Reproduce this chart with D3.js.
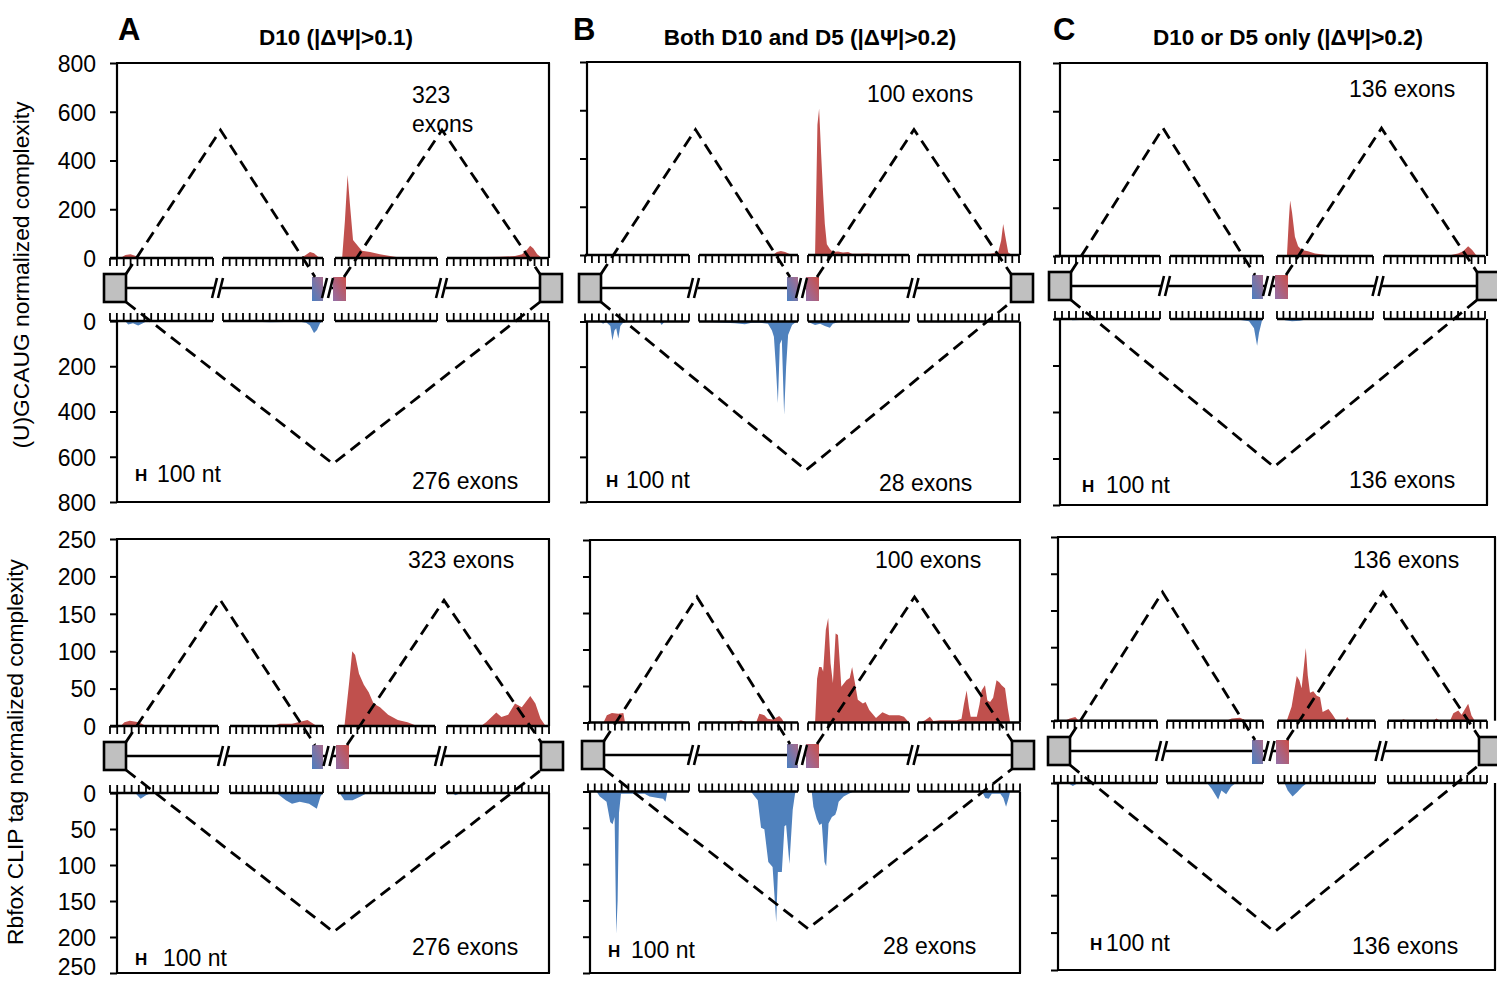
<!DOCTYPE html>
<html><head><meta charset="utf-8">
<script src="https://cdn.jsdelivr.net/npm/d3@7"></script>
<style>
body{margin:0;background:#fff}
svg{display:block}
text{font-family:"Liberation Sans",Arial,Helvetica,sans-serif;fill:#000}
</style>
</head><body>
<svg id="chart" width="1497" height="981"></svg>
<script>
// ---------------- DATA ----------------
const columnLetters = ["A", "B", "C"];
const columnTitles = ["D10 (|ΔΨ|>0.1)", "Both D10 and D5 (|ΔΨ|>0.2)", "D10 or D5 only (|ΔΨ|>0.2)"];
const rowTitles = ["(U)GCAUG normalized complexity", "Rbfox CLIP tag normalized complexity"];
const motifTicks = [0, 200, 400, 600, 800];
const clipTicks = [0, 50, 100, 150, 200, 250];
const upExonLabels = ["323 exons", "100 exons", "136 exons"];
const downExonLabels = ["276 exons", "28 exons", "136 exons"];
const scaleBarLabel = "100 nt";
const segmentLength = 300;      // nt per map segment
const segmentTickStep = 20;     // nt between ruler ticks
// dashed splice diagram apex values (up, down) in axis units
const motifApex = [[525, 631], [520, 659], [530, 636]];
const clipApex = [[168, 193], [172, 189], [175, 199]];

// each profile: 4 segments, each a list of [nt, value]
const motifUpA = [
  [[0,0],[30,0],[45,12],[60,15],[75,8],[95,0],[300,0]],
  [[0,0],[231,0],[246,10],[261,25],[273,20],[285,5],[300,0]],
  [[0,0],[21,0],[29,150],[37,341],[44,220],[53,74],[65,53],[79,30],[103,25],[132,15],[162,8],[185,3],[221,0],[300,0]],
  [[0,0],[69,3],[158,5],[202,8],[223,15],[238,35],[247,50],[256,40],[268,15],[282,0],[300,0]]
];
const motifDownA = [
  [[0,0],[44,0],[53,15],[67,10],[82,20],[93,12],[108,0],[300,0]],
  [[0,0],[90,3],[141,5],[186,4],[231,3],[249,8],[261,20],[273,53],[282,40],[291,10],[300,0]],
  [[0,0],[20,0],[29,3],[60,2],[80,0],[300,0]],
  [[0,0],[60,0],[69,2],[90,0],[300,0]]
];
const motifUpB = [
  [[0,0],[100,0],[110,3],[180,3],[195,0],[300,0]],
  [[0,0],[224,0],[236,12],[248,17],[261,12],[276,3],[291,0],[300,0]],
  [[0,0],[21,0],[25,300],[28,540],[33,606],[39,420],[45,250],[50,128],[56,45],[65,25],[74,12],[89,15],[104,10],[119,12],[131,5],[154,5],[178,6],[199,2],[214,0],[300,0]],
  [[0,0],[65,2],[154,4],[214,5],[238,10],[247,60],[253,128],[259,80],[268,10],[280,0],[300,0]]
];
const motifDownB = [
  [[0,0],[44,0],[52,10],[61,2],[73,20],[79,84],[85,40],[90,30],[96,75],[102,20],[110,5],[131,0],[215,0],[221,15],[230,0],[300,0]],
  [[0,0],[79,5],[109,8],[139,12],[160,5],[185,5],[209,10],[221,40],[227,68],[233,200],[239,361],[245,100],[251,80],[258,413],[264,200],[270,60],[282,15],[291,5],[300,0]],
  [[0,0],[6,5],[21,15],[36,10],[50,20],[65,28],[74,10],[89,3],[112,0],[300,0]],
  [[0,0],[40,0],[60,3],[80,0],[300,0]]
];
const motifUpC = [
  [[0,0],[120,0],[129,4],[151,5],[165,0],[300,0]],
  [[0,0],[165,0],[177,4],[226,5],[258,3],[275,0],[300,0]],
  [[0,0],[31,0],[37,150],[41,230],[47,180],[56,80],[66,40],[78,25],[97,20],[119,10],[150,5],[181,0],[300,0]],
  [[0,0],[180,0],[196,3],[220,10],[235,20],[250,40],[262,25],[273,5],[285,0],[300,0]]
];
const motifDownC = [
  [[0,0],[40,0],[50,5],[70,4],[80,0],[300,0]],
  [[0,0],[215,0],[223,3],[255,10],[271,40],[281,115],[287,60],[297,5],[300,0]],
  [[0,0],[18,0],[25,5],[47,10],[72,8],[87,3],[100,0],[300,0]],
  [[0,0],[300,0]]
];
const clipUpA = [
  [[0,0],[30,0],[40,5],[55,7],[80,5],[100,0],[300,0]],
  [[0,0],[140,0],[160,3],[200,3],[230,6],[250,8],[265,4],[280,0],[300,0]],
  [[0,0],[20,0],[35,60],[44,100],[53,95],[65,70],[80,55],[95,45],[110,30],[130,25],[155,15],[185,8],[215,5],[245,0],[300,0]],
  [[0,0],[100,0],[115,5],[145,18],[160,12],[180,15],[200,30],[220,25],[245,40],[260,30],[275,10],[290,0],[300,0]]
];
const clipDownA = [
  [[0,0],[70,0],[85,8],[100,3],[115,0],[300,0]],
  [[0,0],[150,0],[180,10],[200,15],[225,12],[255,15],[280,22],[292,5],[300,0]],
  [[0,0],[5,0],[20,10],[45,10],[70,5],[90,0],[300,0]],
  [[0,0],[15,0],[25,3],[40,0],[300,0]]
];
const clipUpB = [
  [[0,0],[46,0],[56,10],[71,13],[90,12],[105,13],[110,0],[300,0]],
  [[0,0],[106,0],[127,3],[147,0],[173,0],[183,12],[198,10],[208,5],[223,4],[243,9],[251,5],[258,0],[300,0]],
  [[0,0],[21,0],[27,60],[33,76],[40,76],[45,70],[53,127],[60,143],[67,81],[74,54],[82,122],[89,120],[99,49],[114,58],[124,61],[131,76],[138,58],[148,31],[163,26],[171,28],[182,17],[202,6],[221,14],[241,10],[271,10],[285,8],[300,0]],
  [[0,0],[6,0],[21,3],[35,8],[45,2],[65,3],[84,3],[114,3],[128,5],[135,25],[143,44],[150,20],[155,8],[173,8],[181,25],[187,44],[197,51],[204,30],[212,28],[221,34],[231,58],[239,55],[246,51],[256,47],[264,20],[271,0],[300,0]]
];
const clipDownB = [
  [[0,0],[25,0],[35,7],[55,14],[66,42],[73,45],[79,35],[84,196],[88,150],[92,30],[98,3],[168,3],[183,7],[208,9],[223,10],[230,14],[236,0],[300,0]],
  [[0,0],[157,0],[178,12],[188,50],[198,52],[210,97],[223,104],[234,180],[239,111],[251,111],[259,48],[264,46],[274,100],[284,25],[291,3],[294,0],[300,0]],
  [[0,0],[11,0],[16,21],[26,38],[34,46],[41,44],[49,97],[54,103],[61,44],[71,35],[81,32],[86,25],[91,14],[106,7],[121,3],[136,0],[300,0]],
  [[0,0],[188,0],[198,9],[208,10],[217,3],[242,3],[251,9],[259,21],[266,10],[271,0],[300,0]]
];
const clipUpC = [
  [[0,0],[31,0],[46,3],[62,5],[72,0],[300,0]],
  [[0,0],[186,0],[202,3],[228,4],[249,0],[300,0]],
  [[0,0],[27,0],[42,19],[58,61],[66,55],[73,44],[86,99],[92,62],[99,38],[109,40],[120,34],[130,32],[138,12],[156,16],[169,8],[181,0],[207,0],[214,5],[223,0],[300,0]],
  [[0,0],[40,0],[46,2],[60,0],[137,0],[147,3],[158,0],[188,0],[198,10],[213,14],[223,8],[243,23],[253,7],[263,0],[300,0]]
];
const clipDownC = [
  [[0,0],[40,0],[55,4],[70,0],[300,0]],
  [[0,0],[125,0],[140,8],[150,15],[160,22],[170,10],[185,15],[200,5],[215,0],[300,0]],
  [[0,0],[20,0],[30,10],[45,18],[60,12],[75,5],[90,0],[300,0]],
  [[0,0],[300,0]]
];

// ---------------- LAYOUT ----------------
const FS = 23;
const panels = [
  {row:0,col:0,l:117,r:549,t:63,upZero:258,downZero:321,b:502,geneY:288,
   segs:[[110,213],[223,323],[335,437],[447,548]],up:motifUpA,down:motifDownA,max:800,ticks:motifTicks,apex:motifApex[0],
   upLbl:[412,103],downLbl:[412,489],bar:[135,482],barGap:22},
  {row:0,col:1,l:587,r:1020,t:62,upZero:255,downZero:321.5,b:502,geneY:288,
   segs:[[585,689],[699,798],[808,909],[918,1019]],up:motifUpB,down:motifDownB,max:800,ticks:motifTicks,apex:motifApex[1],
   upLbl:[867,102],downLbl:[879,491],bar:[606,488],barGap:20},
  {row:0,col:2,l:1060,r:1487,t:63,upZero:256,downZero:319,b:505,geneY:286,
   segs:[[1055,1160],[1170,1263],[1277,1373],[1384,1485]],up:motifUpC,down:motifDownC,max:800,ticks:motifTicks,apex:motifApex[2],
   upLbl:[1349,97],downLbl:[1349,488],bar:[1082,493],barGap:24},
  {row:1,col:0,l:117,r:549,t:539,upZero:726,downZero:793,b:973,geneY:756,
   segs:[[110,218],[230,323],[338,435],[447,549]],up:clipUpA,down:clipDownA,max:250,ticks:clipTicks,apex:clipApex[0],
   upLbl:[408,568],downLbl:[412,955],bar:[135,966],barGap:28},
  {row:1,col:1,l:590,r:1020,t:540,upZero:722.5,downZero:791.5,b:973,geneY:755,
   segs:[[588,689],[699,798],[808,909],[918,1020]],up:clipUpB,down:clipDownB,max:250,ticks:clipTicks,apex:clipApex[1],
   upLbl:[875,568],downLbl:[883,954],bar:[608,958],barGap:23},
  {row:1,col:2,l:1058,r:1495,t:537,upZero:720.7,downZero:783,b:970,geneY:751,
   segs:[[1054,1157],[1167,1263],[1278,1375],[1388,1487]],up:clipUpC,down:clipDownC,max:250,ticks:clipTicks,apex:clipApex[2],
   upLbl:[1353,568],downLbl:[1352,954],bar:[1090,951],barGap:16}
];

const RED = "#c0504d", BLUE = "#4f81bd";
const svg = d3.select("#chart");

const defs = svg.append("defs");
const g1 = defs.append("linearGradient").attr("id","gradBlue").attr("x1","0").attr("y1","1").attr("x2","1").attr("y2","0");
g1.append("stop").attr("offset","0").attr("stop-color","#4a7fc1");
g1.append("stop").attr("offset","1").attr("stop-color","#a86b8c");
const g2 = defs.append("linearGradient").attr("id","gradRed").attr("x1","0").attr("y1","1").attr("x2","1").attr("y2","0");
g2.append("stop").attr("offset","0").attr("stop-color","#9370a8");
g2.append("stop").attr("offset","1").attr("stop-color","#cc4f48");

// column letters & titles
const letterX = [118, 573, 1053];
const titleX = [336, 810, 1288];
columnLetters.forEach((L,i)=>{
  svg.append("text").attr("x",letterX[i]).attr("y",40).attr("font-size",31).attr("font-weight","bold").text(L);
  svg.append("text").attr("x",titleX[i]).attr("y",45).attr("font-size",22.5).attr("font-weight","bold")
    .attr("text-anchor","middle").text(columnTitles[i]);
});
// row titles
[[29,275],[23,752]].forEach((p,i)=>{
  svg.append("text").attr("transform",`translate(${p[0]},${p[1]}) rotate(-90)`)
    .attr("text-anchor","middle").attr("font-size",22.8).text(rowTitles[i]);
});

panels.forEach(P=>{
  const g = svg.append("g");
  const yUp = d3.scaleLinear().domain([0,P.max]).range([P.upZero,P.t]);
  const yDown = d3.scaleLinear().domain([0,P.max]).range([P.downZero,P.b]);
  const xs = P.segs.map(s=>d3.scaleLinear().domain([0,segmentLength]).range(s));

  // areas
  P.up.forEach((seg,i)=>{
    g.append("path").datum(seg).attr("fill",RED)
      .attr("d",d3.area().x(d=>xs[i](d[0])).y0(P.upZero).y1(d=>yUp(d[1])));
  });
  P.down.forEach((seg,i)=>{
    g.append("path").datum(seg).attr("fill",BLUE)
      .attr("d",d3.area().x(d=>xs[i](d[0])).y0(P.downZero).y1(d=>yDown(d[1])));
  });

  // axes
  const fmt = P.col===0 ? d3.format("d") : ()=>"";
  [yUp,yDown].forEach((sc,k)=>{
    const ax = d3.axisLeft(sc).tickValues(P.ticks).tickSize(7).tickPadding(14).tickFormat(fmt);
    const a = g.append("g").attr("transform",`translate(${P.l},0)`).call(ax);
    a.select(".domain").remove();
    a.selectAll("line").attr("stroke","#000").attr("stroke-width",2);
    a.selectAll("text").attr("font-size",FS).attr("font-family","Liberation Sans, Arial, sans-serif").attr("dy","0.36em");
    // keep the lowest label of the bottom row inside the picture
    if (P.row===1 && k===1) a.selectAll("text").filter(d=>d===P.max).attr("dy","0.08em");
  });
  // frame lines
  const fl = (x1,y1,x2,y2)=>g.append("line").attr("x1",x1).attr("y1",y1).attr("x2",x2).attr("y2",y2)
      .attr("stroke","#000").attr("stroke-width",2.2);
  fl(P.l,P.t,P.l,P.upZero); fl(P.l,P.downZero,P.l,P.b);
  fl(P.r,P.t,P.r,P.upZero); fl(P.r,P.downZero,P.r,P.b);
  fl(P.l-1,P.t,P.r+1,P.t); fl(P.l-1,P.b,P.r+1,P.b);

  // rulers
  xs.forEach(x=>{
    const ticks = d3.range(0,segmentLength+1,segmentTickStep);
    [[P.upZero,1],[P.downZero,-1]].forEach(([y0,dir])=>{
      g.append("line").attr("x1",x(0)).attr("x2",x(segmentLength)).attr("y1",y0).attr("y2",y0)
        .attr("stroke","#000").attr("stroke-width",2.6);
      g.selectAll(null).data(ticks).enter().append("line")
        .attr("x1",d=>x(d)).attr("x2",d=>x(d)).attr("y1",y0).attr("y2",y0+dir*8)
        .attr("stroke","#000").attr("stroke-width",1.8);
    });
  });

  // gene diagram
  const gy = P.geneY;
  const grayL = [xs[0](0)-6, xs[0](0)+16];
  const grayR = [xs[3](segmentLength)-8, xs[3](segmentLength)+14];
  const blue = [xs[1](segmentLength)-11, xs[1](segmentLength)];
  const red = [xs[2](0)-2, xs[2](0)+11];
  g.append("line").attr("x1",grayL[1]).attr("x2",grayR[0]).attr("y1",gy).attr("y2",gy)
    .attr("stroke","#000").attr("stroke-width",2.6);
  const brk = (cx)=>{
    g.append("polygon").attr("points",`${cx-6},${gy+10} ${cx-1},${gy-10} ${cx+6},${gy-10} ${cx+1},${gy+10}`).attr("fill","#fff");
    [-3,3].forEach(o=>g.append("line").attr("x1",cx+o-3).attr("y1",gy+10).attr("x2",cx+o+2).attr("y2",gy-10)
      .attr("stroke","#000").attr("stroke-width",2.6));
  };
  g.append("rect").attr("x",blue[0]).attr("y",gy-11).attr("width",blue[1]-blue[0]).attr("height",24).attr("fill","url(#gradBlue)");
  g.append("rect").attr("x",red[0]).attr("y",gy-11).attr("width",red[1]-red[0]).attr("height",24).attr("fill","url(#gradRed)");
  brk((xs[0](segmentLength)+xs[1](0))/2);
  brk((blue[1]+red[0])/2);
  brk((xs[2](segmentLength)+xs[3](0))/2);
  [grayL,grayR].forEach(b=>g.append("rect").attr("x",b[0]).attr("y",gy-14).attr("width",b[1]-b[0]).attr("height",28)
    .attr("fill","#c0c0c0").attr("stroke","#000").attr("stroke-width",2.6));

  // dashed splice lines
  const dash = pts=>g.append("path").attr("d",d3.line()(pts)).attr("fill","none").attr("stroke","#000")
    .attr("stroke-width",2.8).attr("stroke-dasharray","12,7");
  const t1End = blue[0]+3, t2Start = red[1]-2;
  dash([[grayL[1],gy-14],[(grayL[1]+t1End)/2,yUp(P.apex[0])],[t1End,gy-11]]);
  dash([[t2Start,gy-11],[(t2Start+grayR[0])/2,yUp(P.apex[0])],[grayR[0],gy-14]]);
  dash([[grayL[1],gy+14],[(grayL[1]+grayR[0])/2,yDown(P.apex[1])],[grayR[0],gy+14]]);

  // labels
  const ul = upExonLabels[P.col];
  if (P.row===0 && P.col===0) {
    const parts = ul.split(" ");
    g.append("text").attr("x",P.upLbl[0]).attr("y",P.upLbl[1]).attr("font-size",FS).text(parts[0]);
    g.append("text").attr("x",P.upLbl[0]).attr("y",P.upLbl[1]+29).attr("font-size",FS).text(parts[1]);
  } else {
    g.append("text").attr("x",P.upLbl[0]).attr("y",P.upLbl[1]).attr("font-size",FS).text(ul);
  }
  g.append("text").attr("x",P.downLbl[0]).attr("y",P.downLbl[1]).attr("font-size",FS).text(downExonLabels[P.col]);
  g.append("text").attr("x",P.bar[0]).attr("y",P.bar[1]-1).attr("font-size",17).attr("font-weight","bold").text("H");
  g.append("text").attr("x",P.bar[0]+P.barGap).attr("y",P.bar[1]).attr("font-size",FS).text(scaleBarLabel);
});
</script>
</body></html>
